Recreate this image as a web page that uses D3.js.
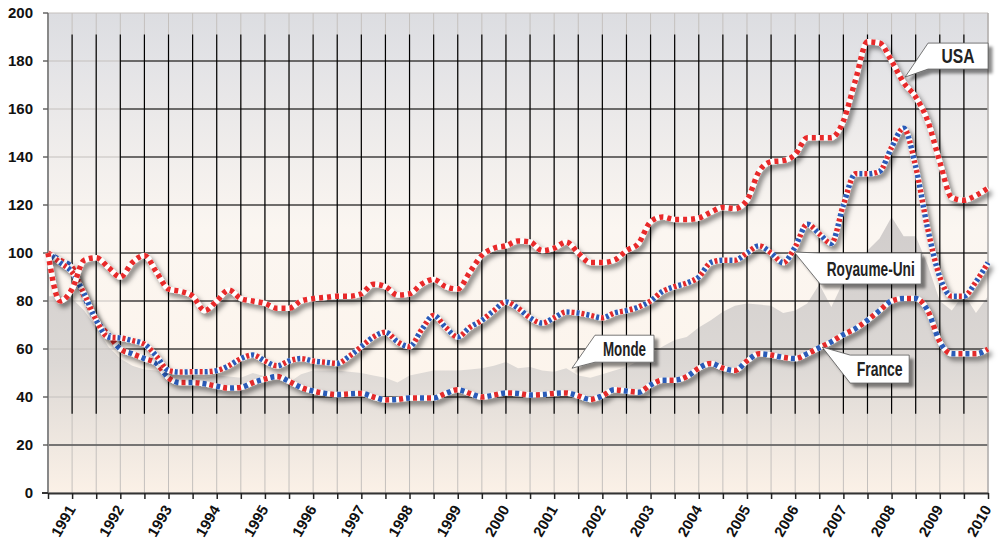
<!DOCTYPE html>
<html>
<head>
<meta charset="utf-8">
<script src="https://cdn.jsdelivr.net/npm/d3@7"></script>
<style>
    body { margin: 0; background: #fff; }
    svg { display: block; }
    text { font-family: "Liberation Sans", Arial, sans-serif; font-weight: bold; fill: #111; }
</style>
</head>
<body>
<svg id="drawing_region"></svg>
<script>
// quarterly index, mid-1990 to end 2009
const quarters = d3.range(79).map(k => 1990.5 + k * 0.25);
const years = [1991, 1992, 1993, 1994, 1995, 1996, 1997, 1998, 1999, 2000,
    2001, 2002, 2003, 2004, 2005, 2006, 2007, 2008, 2009, 2010];
const yTicks = [0, 20, 40, 60, 80, 100, 120, 140, 160, 180, 200];

const usa = [100, 80, 85, 97, 98, 94, 90, 96, 99, 92,
    85, 84, 82, 76, 80, 84.6, 81, 80, 79, 77,
    77, 80, 81, 81.5, 82, 82, 83, 87, 86, 82.5,
    83, 87, 89, 86, 85, 92, 99, 102, 103, 105,
    104.6, 101, 102, 104.6, 100, 96, 96, 97, 101, 104,
    113, 115, 114, 114, 114.6, 117, 119, 118.5, 122, 134,
    138, 138.5, 141, 148, 148, 148, 155, 172, 188, 187.5,
    180, 171, 165, 155, 138, 123, 122, 124, 127];

const royaumeUni = [100, 96, 92, 83, 72, 65, 64.6, 63.5, 62, 57,
    51, 50.4, 50.5, 50.5, 51, 53, 56, 57.5, 55, 53,
    55, 56, 55, 54.5, 54, 57, 61, 65, 67, 63,
    61, 68, 74, 69, 65, 69, 72, 76, 79.6, 77,
    73, 70.8, 73, 75.4, 75, 74, 73, 75, 76, 77.5,
    80, 84, 86, 87.5, 90, 96, 97, 97, 100, 103,
    100, 96, 102.5, 112, 108, 104, 120, 133, 133, 134,
    144, 152, 136, 110, 90, 82, 82, 88, 96];

const france = [100, 97, 94, 82, 72, 66, 60, 58, 56, 54,
    48, 46, 46, 45.5, 44.5, 43.7, 44, 46, 47.5, 48.5,
    46.5, 44, 42.5, 41.5, 41, 41.3, 41.5, 40, 38.8, 39,
    39.6, 39.6, 39.6, 41.5, 43, 41.5, 40, 40.8, 41.7, 41.5,
    40.8, 41, 41.5, 41.7, 40.5, 39, 40.5, 43, 42.5, 42,
    45, 47, 47, 48.5, 52, 54, 52, 51, 55, 58,
    57.5, 56.5, 56, 58, 60.5, 63, 66, 68.5, 72, 76,
    80, 81, 81, 76, 63, 58, 58, 58, 60];

const monde = [82, 82, 81, 76, 69, 61, 56, 53, 51.5, 51,
    50, 49, 48.5, 48, 49, 48.5, 48, 50, 48.5, 49,
    46, 49.5, 51, 51, 51, 50.5, 50, 49, 48, 46,
    49, 50, 51, 51, 51, 51.5, 52, 53, 54.6, 52,
    52.5, 51, 50.5, 52, 49, 48, 49.5, 51, 52.5, 55,
    58, 61, 63.7, 65, 69, 72, 75.5, 78, 79, 78.5,
    78, 75, 76, 79, 87, 77.5, 88, 95, 101, 106,
    115, 107, 107, 95, 80, 76, 83, 75, 82];

const labelNames = ['USA', 'Royaume-Uni', 'France', 'Monde'];

class TrackerChart {

    constructor(config) {
        this.config = config;
        this.init();
    }

    init() {
        let self = this;

        self.svg = d3.select(self.config.parent)
            .attr('width', self.config.width)
            .attr('height', self.config.height);

        self.xscale = d3.scaleLinear()
            .domain([1990.5, 2010])
            .range([self.config.plot.left, self.config.plot.right]);

        self.yscale = d3.scaleLinear()
            .domain([0, 200])
            .range([self.config.plot.bottom, self.config.plot.top]);

        const defs = self.svg.append('defs');

        const bg = defs.append('linearGradient')
            .attr('id', 'bg').attr('x1', 0).attr('y1', 0).attr('x2', 0).attr('y2', 1);
        [[0, '#dcdde1'], [0.1, '#e3e3e6'], [0.3, '#f1eeec'], [0.45, '#fbf6f1'], [1, '#fdf3e8']]
            .forEach(s => bg.append('stop').attr('offset', s[0]).attr('stop-color', s[1]));

        const area = defs.append('linearGradient')
            .attr('id', 'monde').attr('gradientUnits', 'userSpaceOnUse')
            .attr('x1', 0).attr('x2', 0)
            .attr('y1', self.yscale(120)).attr('y2', self.yscale(0));
        [[0, '#d0cccb'], [0.55, '#dcd8d5'], [1, '#fbf1e7']]
            .forEach(s => area.append('stop').attr('offset', s[0]).attr('stop-color', s[1]));

        const shadow = defs.append('filter').attr('id', 'shadow')
            .attr('x', '-10%').attr('y', '-10%').attr('width', '130%').attr('height', '130%');
        shadow.append('feDropShadow')
            .attr('dx', 3).attr('dy', 4).attr('stdDeviation', 2.5)
            .attr('flood-color', '#000').attr('flood-opacity', 0.5);

        const boxShadow = defs.append('filter').attr('id', 'boxshadow')
            .attr('x', '-20%').attr('y', '-30%').attr('width', '150%').attr('height', '180%');
        boxShadow.append('feDropShadow')
            .attr('dx', 4).attr('dy', 4).attr('stdDeviation', 1.5)
            .attr('flood-color', '#000').attr('flood-opacity', 0.45);

        self.chart = self.svg.append('g');
    }

    render() {
        let self = this;
        const p = self.config.plot;
        const x = self.xscale, y = self.yscale;
        const halfTicks = d3.range(1990.5, 2010.01, 0.5);

        // plot background
        self.chart.append('rect')
            .attr('x', p.left).attr('y', p.top)
            .attr('width', p.right - p.left).attr('height', p.bottom - p.top)
            .attr('fill', 'url(#bg)');

        // Monde area
        self.chart.append('path')
            .datum(monde)
            .attr('fill', 'url(#monde)')
            .attr('d', d3.area()
                .x((d, i) => x(quarters[i]))
                .y0(y(0))
                .y1(d => y(d)));

        // light grid
        self.chart.append('g').selectAll('line').data(halfTicks).join('line')
            .attr('x1', d => x(d)).attr('x2', d => x(d))
            .attr('y1', p.top).attr('y2', p.bottom)
            .attr('stroke', '#c4c0bd').attr('stroke-width', 1);
        self.chart.append('g').selectAll('line').data(yTicks).join('line')
            .attr('x1', p.left - 5).attr('x2', p.right)
            .attr('y1', d => y(d)).attr('y2', d => y(d))
            .attr('stroke', '#c4c0bd').attr('stroke-width', 1);

        // black grid
        const inner = halfTicks.slice(1, -1);
        self.chart.append('g').selectAll('line').data(inner).join('line')
            .attr('x1', d => x(d)).attr('x2', d => x(d))
            .attr('y1', y(191)).attr('y2', y(33))
            .attr('stroke', '#000').attr('stroke-width', 1.2);
        self.chart.append('g').selectAll('line').data(yTicks.filter(d => d >= 40 && d <= 180)).join('line')
            .attr('x1', x(1992)).attr('x2', p.right)
            .attr('y1', d => y(d)).attr('y2', d => y(d))
            .attr('stroke', '#000').attr('stroke-width', 1.2);

        self.chart.append('line')
            .attr('x1', p.left).attr('x2', p.right)
            .attr('y1', y(20)).attr('y2', y(20))
            .attr('stroke', '#555').attr('stroke-width', 1.5);

        // axes
        self.chart.append('line')
            .attr('x1', p.left).attr('x2', p.left)
            .attr('y1', p.top).attr('y2', p.bottom)
            .attr('stroke', '#888').attr('stroke-width', 2);
        self.chart.append('line')
            .attr('x1', p.right).attr('x2', p.right)
            .attr('y1', p.top).attr('y2', p.bottom)
            .attr('stroke', '#b5b2b0').attr('stroke-width', 1.5);

        const xaxis = d3.axisBottom(x)
            .tickValues(halfTicks)
            .tickSize(6)
            .tickSizeOuter(0)
            .tickFormat('');
        const xg = self.chart.append('g')
            .attr('transform', `translate(0, ${p.bottom})`)
            .call(xaxis);
        xg.select('.domain').attr('stroke', '#333').attr('stroke-width', 2);
        xg.selectAll('.tick line').attr('stroke', '#222').attr('stroke-width', 1.5);
        self.chart.append('line')
            .attr('x1', p.left - 6).attr('x2', p.left)
            .attr('y1', p.bottom).attr('y2', p.bottom)
            .attr('stroke', '#333').attr('stroke-width', 2);

        self.chart.append('g').selectAll('text').data(years).join('text')
            .attr('transform', d => `translate(${x(d) + 4}, ${p.bottom + 16}) rotate(-60)`)
            .attr('text-anchor', 'end')
            .style('font-size', '15px')
            .text(d => d);

        self.chart.append('g').selectAll('text').data(yTicks).join('text')
            .attr('x', 33)
            .attr('y', d => y(d) + 5)
            .attr('text-anchor', 'end')
            .style('font-size', '15px')
            .text(d => d);

        self.chart.append('g').selectAll('line').data(yTicks.slice(1)).join('line')
            .attr('x1', p.left - 5).attr('x2', p.left)
            .attr('y1', d => y(d)).attr('y2', d => y(d))
            .attr('stroke', '#555').attr('stroke-width', 1.2);

        // striped series
        const line = d3.line()
            .x((d, i) => x(quarters[i]))
            .y(d => y(d))
            .curve(d3.curveMonotoneX);

        const series = [
            { values: france, stripes: [['#e32b2b', '4 10', 0], ['#2a5bb8', '4 10', -7]] },
            { values: royaumeUni, stripes: [['#e32b2b', '3 7', 0], ['#2a5bb8', '3 7', -5]] },
            { values: usa, stripes: [['#e82a2a', '4 4', 0]] }
        ];

        series.forEach(s => {
            const g = self.chart.append('g');
            g.append('path')
                .datum(s.values)
                .attr('d', line)
                .attr('fill', 'none')
                .attr('stroke', '#fff')
                .attr('stroke-width', 5.5)
                .attr('stroke-linejoin', 'round')
                .attr('filter', 'url(#shadow)');
            s.stripes.forEach(st => {
                g.append('path')
                    .datum(s.values)
                    .attr('d', line)
                    .attr('fill', 'none')
                    .attr('stroke', st[0])
                    .attr('stroke-width', 5.5)
                    .attr('stroke-dasharray', st[1])
                    .attr('stroke-dashoffset', st[2]);
            });
        });

        // callouts: tip in data units, box offsets in px from the tip
        const callouts = [
            { tip: [2008.28, 173.3], box: [23, -34, 83, -8], fit: 33 },
            { tip: [2005.98, 100.4], box: [26, 1, 127, 32], fit: 88 },
            { tip: [2006.56, 60.8], box: [28, 8, 87, 36], fit: 46 },
            { tip: [2001.37, 52], box: [23, -33, 82, -6], fit: 43 }
        ];

        callouts.forEach((c, i) => {
            const tx = x(c.tip[0]), ty = y(c.tip[1]);
            const L = tx + c.box[0], T = ty + c.box[1], R = tx + c.box[2], B = ty + c.box[3];
            self.chart.append('path')
                .attr('d', `M${tx},${ty} L${L},${T} L${R},${T} L${R},${B} L${L},${B} Z`)
                .attr('fill', '#fff')
                .attr('stroke', '#555')
                .attr('stroke-width', 0.8)
                .attr('filter', 'url(#boxshadow)');
            self.chart.append('text')
                .attr('x', (L + R) / 2)
                .attr('y', (T + B) / 2)
                .attr('dy', '0.36em')
                .attr('text-anchor', 'middle')
                .attr('textLength', c.fit)
                .attr('lengthAdjust', 'spacingAndGlyphs')
                .style('font-size', '20px')
                .style('fill', '#222')
                .text(labelNames[i]);
        });
    }
}

const chart = new TrackerChart({
    parent: '#drawing_region',
    width: 999,
    height: 539,
    plot: { left: 48, right: 988, top: 13, bottom: 493 }
});
chart.render();
</script>
</body>
</html>
